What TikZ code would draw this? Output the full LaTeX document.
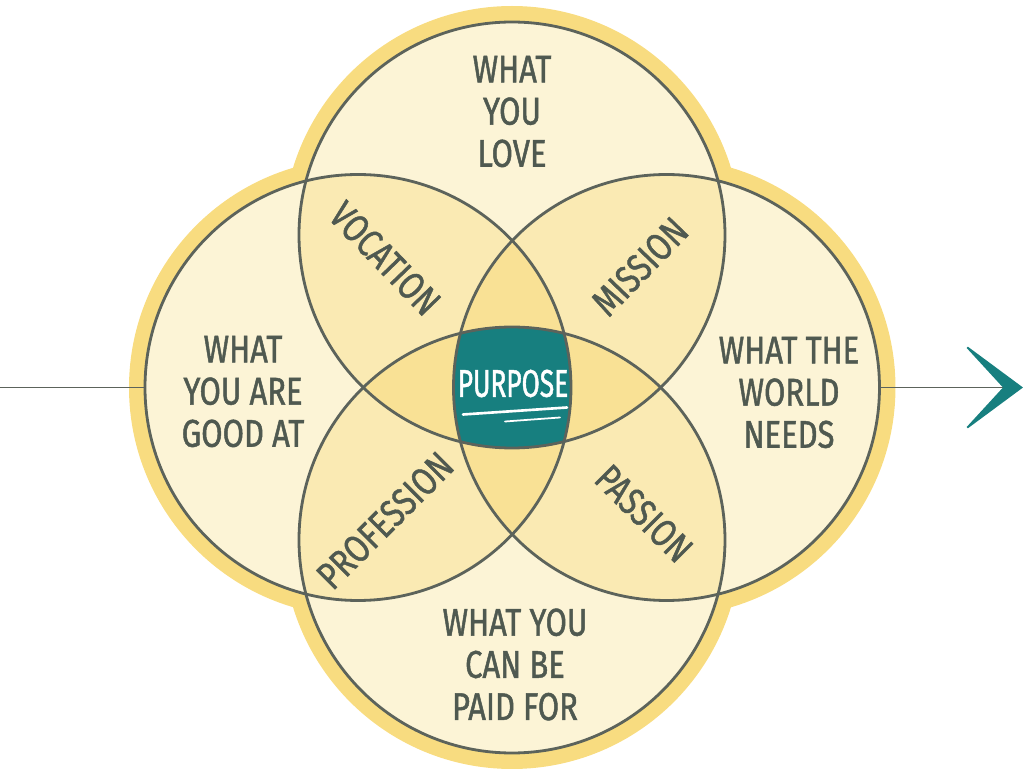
\documentclass[tikz,border=0pt]{standalone}
\usepackage{fontspec}
\usetikzlibrary{arrows.meta}
\newfontfamily\handfont{Fira Sans}[FakeStretch=0.8, FakeBold=1.2]
\newfontfamily\purposefont{Fira Sans}[FakeStretch=0.68, FakeBold=1.2]
\definecolor{creamfill}{HTML}{FCF4D6}
\definecolor{twofill}{HTML}{FAEAB3}
\definecolor{threefill}{HTML}{F9E195}
\definecolor{purposeteal}{HTML}{177F7F}
\definecolor{rimline}{HTML}{5C635B}
\definecolor{inkgray}{HTML}{4F5950}
\definecolor{glowyellow}{HTML}{F8DC80}
\tikzset{
  glow/.style={draw=glowyellow, line width=0.32cm},
  rim/.style={circle, draw=rimline, line width=1.6pt, minimum size=8.52cm, inner sep=0pt},
  label/.style={text=inkgray, align=center, font={\handfont\fontsize{22}{24}\selectfont}},
  petal/.style={text=inkgray, font={\handfont\fontsize{22}{24}\selectfont}},
}
\begin{document}
\begin{tikzpicture}
			\useasboundingbox (-10.24,-7.75) rectangle (10.24,7.75);
			\def\R{4.26}
			\coordinate (ctop) at (0,3.05);
			\coordinate (cbot) at (0,-3.05);
			\coordinate (cleft) at (-3.08,0);
			\coordinate (cright) at (3.09,0);
			
			\draw[glow] (ctop) circle (4.42);
			\draw[glow] (cbot) circle (4.42);
			\draw[glow] (cleft) circle (4.42);
			\draw[glow] (cright) circle (4.42);
			
			\fill[creamfill] (ctop) circle (\R);
			\fill[creamfill] (cbot) circle (\R);
			\fill[creamfill] (cleft) circle (\R);
			\fill[creamfill] (cright) circle (\R);
			
			\begin{scope}
				\clip (ctop) circle (\R);
				\fill[twofill] (cleft) circle (\R);
				\fill[twofill] (cright) circle (\R);
				\fill[twofill] (cbot) circle (\R);
			\end{scope}
			\begin{scope}
				\clip (cbot) circle (\R);
				\fill[twofill] (cleft) circle (\R);
				\fill[twofill] (cright) circle (\R);
			\end{scope}
			\begin{scope}
				\clip (cleft) circle (\R);
				\fill[twofill] (cright) circle (\R);
			\end{scope}
			
			\begin{scope}
				\clip (ctop) circle (\R);
				\clip (cleft) circle (\R);
				\fill[threefill] (cright) circle (\R);
				\fill[threefill] (cbot) circle (\R);
			\end{scope}
			\begin{scope}
				\clip (ctop) circle (\R);
				\clip (cright) circle (\R);
				\fill[threefill] (cbot) circle (\R);
			\end{scope}
			\begin{scope}
				\clip (cbot) circle (\R);
				\clip (cleft) circle (\R);
				\fill[threefill] (cright) circle (\R);
			\end{scope}
			
			\begin{scope}
				\clip (ctop) circle (\R);
				\clip (cleft) circle (\R);
				\clip (cright) circle (\R);
				\fill[purposeteal] (cbot) circle (\R);
			\end{scope}
			
			\node[rim] (love) at (ctop) {};
			\node[rim] (paid) at (cbot) {};
			\node[rim] (good) at (cleft) {};
			\node[rim] (world) at (cright) {};
			
			\node[label] (lovetext) at (0,5.52) {WHAT\\YOU\\LOVE};
			\node[label] (goodtext) at (-5.38,-0.08) {WHAT\\YOU ARE\\GOOD AT};
			\node[label] (worldtext) at (5.54,-0.1) {WHAT THE\\WORLD\\NEEDS};
			\node[label] (paidtext) at (0.06,-5.54) {WHAT YOU\\CAN BE\\PAID FOR};
			
			\node[petal, rotate=-46] (vocation) at (-2.54,2.58) {VOCATION};
			\node[petal, rotate=46] (mission) at (2.56,2.42) {MISSION};
			\node[petal, rotate=45] (profession) at (-2.54,-2.66) {PROFESSION};
			\node[petal, rotate=-45] (passion) at (2.64,-2.52) {PASSION};
			
			\node[white, font={\purposefont\fontsize{22}{24}\selectfont}] (purpose) at (0.02,0.08) {PURPOSE};
			\draw[white, line width=1.5pt, line cap=round] (-0.98,-0.54) -- (1.1,-0.4);
			\draw[white, line width=1pt, line cap=round] (-0.14,-0.68) -- (0.96,-0.6);
			
			\coordinate (lstart) at (-10.24,0);
			\coordinate (rtip) at (10.22,0);
			\draw[rimline, line width=1pt] (lstart) -- (good.west);
			\draw[rimline, line width=1pt, -{Stealth[length=1.25cm, width=1.85cm, inset=0.85cm, color=purposeteal]}] (world.east) -- (rtip);
		\end{tikzpicture}
\end{document}
